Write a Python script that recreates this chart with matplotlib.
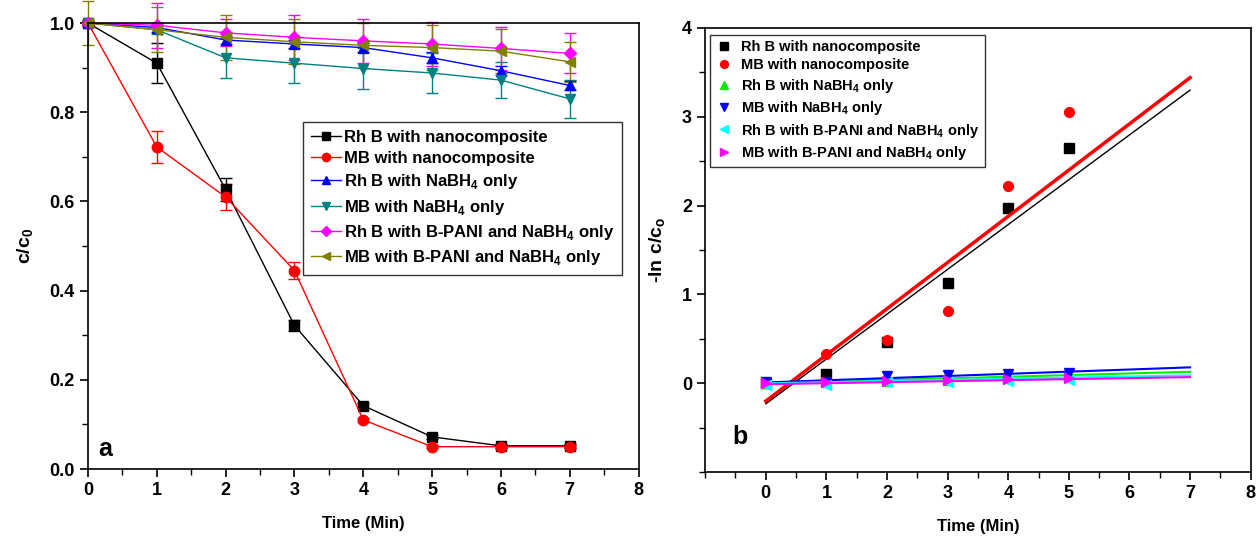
import matplotlib
matplotlib.use("Agg")
import matplotlib.pyplot as plt
from matplotlib.ticker import MultipleLocator

plt.rcParams['font.family'] = ['Liberation Sans', 'DejaVu Sans']
plt.rcParams['mathtext.fontset'] = 'custom'
plt.rcParams['mathtext.rm'] = 'Liberation Sans:bold'
plt.rcParams['mathtext.bf'] = 'Liberation Sans:bold'

# ---- panel a data: c/c0 vs time ----
t = [0, 1, 2, 3, 4, 5, 6, 7]
rhb_nano = [1.0, 0.91, 0.627, 0.322, 0.142, 0.072, 0.052, 0.052]
rhb_nano_err = [0.005, 0.045, 0.025, 0.012, 0.006, 0.005, 0.005, 0.005]
mb_nano = [1.0, 0.722, 0.610, 0.445, 0.110, 0.050, 0.050, 0.050]
mb_nano_err = [0.005, 0.035, 0.030, 0.020, 0.005, 0.004, 0.004, 0.004]
rhb_nabh4 = [1.0, 0.990, 0.962, 0.953, 0.945, 0.922, 0.893, 0.860]
rhb_nabh4_err = [0.005, 0.010, 0.010, 0.010, 0.010, 0.012, 0.010, 0.010]
mb_nabh4 = [1.0, 0.985, 0.922, 0.910, 0.898, 0.888, 0.872, 0.830]
mb_nabh4_err = [0.005, 0.010, 0.045, 0.045, 0.045, 0.045, 0.040, 0.042]
rhb_pani = [1.0, 0.995, 0.978, 0.968, 0.960, 0.953, 0.943, 0.932]
rhb_pani_err = [0.005, 0.050, 0.030, 0.050, 0.050, 0.050, 0.048, 0.045]
mb_pani = [1.0, 0.985, 0.968, 0.958, 0.950, 0.945, 0.937, 0.913]
mb_pani_err = [0.050, 0.050, 0.050, 0.050, 0.050, 0.050, 0.050, 0.045]

# ---- panel b data: -ln c/c0 vs time ----
tb = [0, 1, 2, 3, 4, 5]
ln_rhb_nano = [0.0, 0.10, 0.47, 1.13, 1.97, 2.65]
ln_mb_nano = [0.0, 0.33, 0.49, 0.81, 2.22, 3.05]
ln_rhb_nabh4 = [0.0, 0.01, 0.03, 0.04, 0.06, 0.08]
ln_mb_nabh4 = [0.01, 0.02, 0.08, 0.09, 0.11, 0.12]
ln_rhb_pani = [-0.02, -0.02, 0.01, 0.02, 0.03, 0.04]
ln_mb_pani = [0.0, 0.02, 0.03, 0.04, 0.05, 0.06]
fit_t = [0, 7]
fit_rhb_nano = [-0.23, 3.30]
fit_mb_nano = [-0.20, 3.44]
fit_rhb_nabh4 = [0.0, 0.13]
fit_mb_nabh4 = [0.01, 0.18]
fit_rhb_pani = [0.0, 0.09]
fit_mb_pani = [-0.01, 0.07]

labels = ['Rh B with nanocomposite', 'MB with nanocomposite',
          'Rh B with NaBH$_4$ only', 'MB with NaBH$_4$ only',
          'Rh B with B-PANI and NaBH$_4$ only', 'MB with B-PANI and NaBH$_4$ only']

fig = plt.figure(figsize=(12.57, 5.36), dpi=100)
ax1 = fig.add_axes([0.070, 0.125, 0.438, 0.832])
ax2 = fig.add_axes([0.561, 0.119, 0.434, 0.829])

series_a = [
    (rhb_nano, rhb_nano_err, 'black', 's'),
    (mb_nano, mb_nano_err, 'red', 'o'),
    (rhb_nabh4, rhb_nabh4_err, 'blue', '^'),
    (mb_nabh4, mb_nabh4_err, '#008080', 'v'),
    (rhb_pani, rhb_pani_err, 'magenta', 'D'),
    (mb_pani, mb_pani_err, '#808000', '<'),
]
handles = []
for (y, e, c, m), lab in zip(series_a, labels):
    ms = 6 if m == 'D' else 7.5
    cont = ax1.errorbar(t, y, yerr=e, color=c, marker=m, markersize=ms, lw=1,
                        capsize=4, elinewidth=1, capthick=1, label=lab, clip_on=False)
    handles.append(cont[0])

ax1.set_xlim(0, 8)
ax1.set_ylim(0, 1.0)
ax1.xaxis.set_major_locator(MultipleLocator(1))
ax1.xaxis.set_minor_locator(MultipleLocator(0.5))
ax1.yaxis.set_minor_locator(MultipleLocator(0.1))
ax1.set_yticks([0, 0.2, 0.4, 0.6, 0.8, 1.0])
ax1.set_yticklabels(['0.0', '0.2', '0.4', '0.6', '0.8', '1.0'])
ax1.set_xlabel('Time (Min)', fontsize=12, fontweight='bold', labelpad=12)
ax1.set_ylabel(r'c/c$_\mathbf{0}$', fontsize=14, fontweight='bold', labelpad=10)
ax1.text(0.15, 0.03, 'a', fontsize=18, fontweight='bold')
leg1 = ax1.legend(handles, labels, loc='upper left', bbox_to_anchor=(0.391, 0.778),
                  borderaxespad=0, prop={'size': 12, 'weight': 'bold'},
                  frameon=True, fancybox=False, edgecolor='black',
                  handlelength=1.8, handletextpad=0.2, borderpad=0.45,
                  labelspacing=0.38, markerscale=0.8)
leg1.get_frame().set_linewidth(1)

series_b = [
    (ln_rhb_nano, fit_rhb_nano, 'black', 's', 1),
    (ln_mb_nano, fit_mb_nano, 'red', 'o', 2.5),
    (ln_rhb_nabh4, fit_rhb_nabh4, '#00ee00', '^', 1.5),
    (ln_mb_nabh4, fit_mb_nabh4, 'blue', 'v', 1.5),
    (ln_rhb_pani, fit_rhb_pani, 'cyan', '<', 1.5),
    (ln_mb_pani, fit_mb_pani, 'magenta', '>', 1.5),
]
for (y, fy, c, m, lw), lab in zip(series_b, labels):
    ax2.plot(fit_t, fy, color=c, lw=lw)
    ax2.plot(tb, y, linestyle='none', marker=m, color=c, markersize=7, label=lab)

ax2.set_xlim(-1, 8)
ax2.set_ylim(-1, 4)
ax2.set_xticks(range(0, 9))
ax2.xaxis.set_minor_locator(MultipleLocator(0.5))
ax2.set_yticks(range(0, 5))
ax2.yaxis.set_minor_locator(MultipleLocator(0.5))
ax2.set_xlabel('Time (Min)', fontsize=12, fontweight='bold', labelpad=12)
ax2.set_ylabel(r'-ln c/c$_\mathbf{o}$', fontsize=14, fontweight='bold', labelpad=10)
ax2.text(-0.55, -0.68, 'b', fontsize=18, fontweight='bold')
leg2 = ax2.legend(loc='upper left', bbox_to_anchor=(0.009, 0.984),
                  borderaxespad=0, prop={'size': 10.5, 'weight': 'bold'},
                  frameon=True, fancybox=False, edgecolor='black',
                  handlelength=1.2, handletextpad=0.6, borderpad=0.35,
                  labelspacing=0.3, markerscale=0.8)
leg2.get_frame().set_linewidth(1)

for ax in (ax1, ax2):
    ax.tick_params(which='both', direction='out', top=False, right=False)
    ax.tick_params(which='major', length=6, width=1.2, labelsize=13)
    ax.tick_params(which='minor', length=4, width=1)
    for lab in ax.get_xticklabels() + ax.get_yticklabels():
        lab.set_fontweight('bold')
    for sp in ax.spines.values():
        sp.set_linewidth(1.2)

fig.savefig('out.png', dpi=100)
